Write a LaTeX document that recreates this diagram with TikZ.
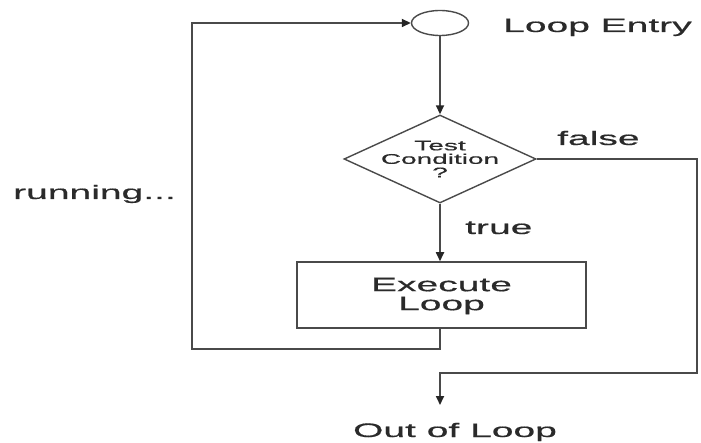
\documentclass[tikz,border=0pt]{standalone}
\usepackage{fontspec}
\setmainfont{Liberation Sans}
\newfontfamily\widefont[FakeStretch=2.0,FakeBold=0.6]{Liberation Sans}
\usetikzlibrary{shapes.geometric,arrows.meta}
\definecolor{ln}{HTML}{4A4A4A}
\definecolor{tx}{HTML}{2A2A2A}
\tikzset{
  x=1pt,y=1pt,
  big/.style={font=\widefont\fontsize{19.5}{19}\selectfont, text=tx, inner sep=0pt, align=center},
  small/.style={font=\widefont\fontsize{14}{13.5}\selectfont, text=tx, inner sep=0pt, align=center},
  conn/.style={draw=ln, line width=1.7pt},
  arr/.style={conn, -{Triangle[length=9pt,width=8pt,fill=black!85,color=black!85]}},
  entry/.style={draw=ln, line width=1.4pt, ellipse, minimum width=57pt, minimum height=25pt, inner sep=0pt},
  dia/.style={draw=ln, line width=1.4pt, diamond, minimum width=192pt, minimum height=88pt, inner sep=0pt},
  box/.style={draw=ln, line width=1.5pt, rectangle, minimum width=289pt, minimum height=66pt, inner sep=0pt}
}
\begin{document}
\begin{tikzpicture}
\useasboundingbox (0,0) rectangle (701,442);
\fill[white] (0,0) rectangle (701,442);
\node[entry] (e) at (440,419) {};
\node[big, anchor=base west] (le) at (503,410) {Loop Entry};
\node[dia, label={[small]center:{Test\\Condition\\?}}] (d) at (440,283) {};
\node[big, anchor=base west] (fl) at (557,297) {false};
\node[big, anchor=base west] (tr) at (465,208) {true};
\node[box] (b) at (441.5,147) {};
\node[big] (bt) at (441.5,146) {Execute\\Loop};
\node[big, anchor=base west] (run) at (13,243) {running...};
\node[big, anchor=base] (out) at (455,5) {Out of Loop};
\coordinate (o) at (440,37);
\draw[arr] (e) -- (d);
\draw[arr] (d) -- (b.north -| d);
\draw[arr] (b.south -| d) -- (440,93) -- (192,93) -- (192,419) -- (e.west);
\draw[arr] (d.east) -- (697,283) -- (697,69) -- (440,69) -- (o);
\end{tikzpicture}
\end{document}
